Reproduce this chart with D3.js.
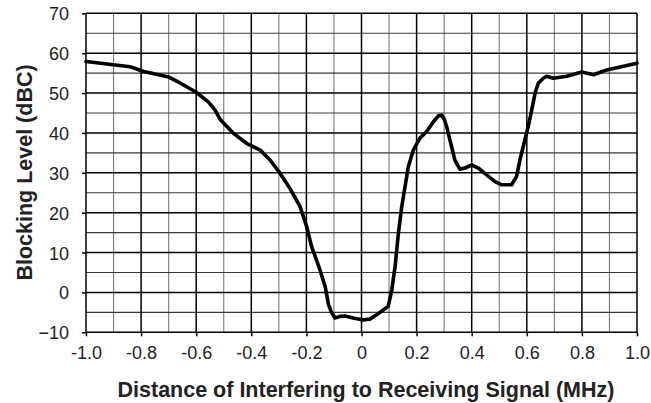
<!DOCTYPE html>
<html><head><meta charset="utf-8">
<script src="https://cdn.jsdelivr.net/npm/d3@7"></script>
<style>body{margin:0;background:#fff}svg{display:block}</style>
</head><body>
<svg id="chart" width="651" height="403"></svg>
<script>
const xTicks = [-1.0,-0.8,-0.6,-0.4,-0.2,0,0.2,0.4,0.6,0.8,1.0];
const xTickLabels = ["-1.0","-0.8","-0.6","-0.4","-0.2","0","0.2","0.4","0.6","0.8","1.0"];
const yTicks = [-10,0,10,20,30,40,50,60,70];
const xTitle = "Distance of Interfering to Receiving Signal (MHz)";
const yTitle = "Blocking Level (dBC)";
const freq = [-1.0,-0.84,-0.79,-0.70,-0.66,-0.60,-0.556,-0.532,-0.514,-0.50,-0.465,-0.417,-0.368,-0.332,-0.296,-0.26,-0.223,-0.199,-0.181,-0.151,-0.132,-0.12,-0.11,-0.096,-0.078,-0.06,-0.03,0.006,0.03,0.055,0.079,0.097,0.11,0.122,0.134,0.146,0.158,0.17,0.188,0.212,0.236,0.261,0.279,0.291,0.30,0.309,0.321,0.339,0.357,0.376,0.40,0.424,0.454,0.485,0.509,0.545,0.563,0.575,0.587,0.605,0.618,0.63,0.642,0.66,0.672,0.696,0.745,0.8,0.842,0.89,1.0];
const level = [57.9,56.6,55.4,54.0,52.6,50.2,47.8,45.8,43.5,42.4,39.9,37.4,35.7,33.2,29.9,26.1,21.5,16.5,11.5,5.7,1.5,-3.0,-4.8,-6.4,-6.0,-5.9,-6.4,-6.9,-6.7,-5.6,-4.4,-3.5,0.65,6.5,14.9,21.5,26.5,31.5,35.7,38.7,40.3,42.8,44.3,44.5,43.5,41.6,38.2,33.2,30.9,31.2,32.0,31.2,29.5,27.8,27.0,27.0,29.1,33.2,36.6,41.6,45.8,50.0,52.5,53.7,54.2,53.7,54.2,55.3,54.6,55.8,57.5];

const svg = d3.select("#chart");
const L = 86, R = 637, T = 13.3, B = 332.3;
const x = d3.scaleLinear().domain([-1,1]).range([L,R]);
const y = d3.scaleLinear().domain([-10,70]).range([B,T]);

const g = svg.append("g");
// minor grid
const vMinor = d3.range(-0.9, 1.0, 0.2).map(v => +v.toFixed(2));
const hMinor = d3.range(-5, 70, 10);
g.selectAll(".vmin").data(vMinor).join("line")
  .attr("x1", d => x(d)).attr("x2", d => x(d)).attr("y1", T).attr("y2", B)
  .attr("stroke", "#7a7a7a").attr("stroke-width", 1.1);
g.selectAll(".hmin").data(hMinor).join("line")
  .attr("x1", L).attr("x2", R).attr("y1", d => y(d)).attr("y2", d => y(d))
  .attr("stroke", "#3a3a3a").attr("stroke-width", 1.1);
// major grid
g.selectAll(".vmaj").data(xTicks).join("line")
  .attr("x1", d => x(d)).attr("x2", d => x(d)).attr("y1", T).attr("y2", B)
  .attr("stroke", "#000").attr("stroke-width", 1.5);
g.selectAll(".hmaj").data(yTicks).join("line")
  .attr("x1", L).attr("x2", R).attr("y1", d => y(d)).attr("y2", d => y(d))
  .attr("stroke", "#000").attr("stroke-width", 1.5);

// axes
const xAxis = d3.axisBottom(x).tickValues(xTicks).tickFormat((d,i) => xTickLabels[i]).tickSize(4).tickPadding(10);
const yAxis = d3.axisLeft(y).tickValues(yTicks).tickSize(4).tickPadding(13);
const gx = svg.append("g").attr("transform", `translate(0,${B})`).call(xAxis);
const gy = svg.append("g").attr("transform", `translate(${L},0)`).call(yAxis);
[gx, gy].forEach(a => {
  a.select(".domain").remove();
  a.selectAll(".tick line").attr("stroke", "#000").attr("stroke-width", 1.5);
  a.selectAll(".tick text").attr("font-family", "Liberation Sans, Arial, sans-serif")
    .attr("font-size", 18).attr("fill", "#222");
});
gy.selectAll(".tick text").attr("dy", "0.36em");

// curve
const pts = freq.map((f,i) => [f, level[i]]);
svg.append("path").datum(pts)
  .attr("fill", "none").attr("stroke", "#000").attr("stroke-width", 3.6)
  .attr("stroke-linejoin", "round").attr("stroke-linecap", "round")
  .attr("d", d3.line().x(d => x(d[0])).y(d => y(d[1])).curve(d3.curveLinear));

// titles
svg.append("text").attr("x", 366).attr("y", 396.5).attr("text-anchor", "middle")
  .attr("font-family", "Liberation Sans, Arial, sans-serif").attr("font-weight", "bold")
  .attr("font-size", 21.5).attr("fill", "#222").text(xTitle);
svg.append("text").attr("transform", "translate(32,172.5) rotate(-90)").attr("text-anchor", "middle")
  .attr("font-family", "Liberation Sans, Arial, sans-serif").attr("font-weight", "bold")
  .attr("font-size", 21.5).attr("fill", "#222").text(yTitle);
</script>
</body></html>
